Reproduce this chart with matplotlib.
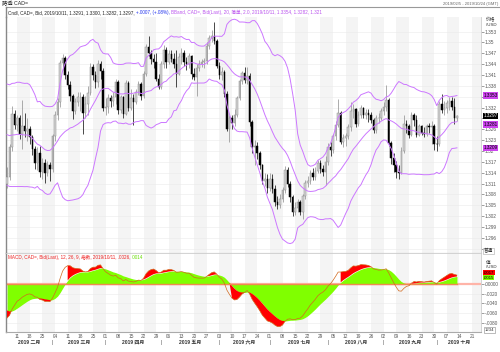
import matplotlib
matplotlib.use('Agg')
import matplotlib.pyplot as plt
from matplotlib.lines import Line2D
import numpy as np
import pandas as pd

plt.rcParams['font.family'] = ['Liberation Sans', 'Noto Sans CJK SC', 'DejaVu Sans']

# 2018/11/26 - 2019/02/04 的收盘价，只用来预热布林带和MACD（图上不画）
warmup_close = [
    1.3270, 1.3310, 1.3260, 1.3275, 1.3295,
    1.3245, 1.3320, 1.3365, 1.3385, 1.3335,
    1.3400, 1.3370, 1.3355, 1.3360, 1.3385,
    1.3420, 1.3470, 1.3510, 1.3545, 1.3600,
    1.3620, 1.3620, 1.3665, 1.3635, 1.3640,
    1.3635, 1.3630, 1.3580, 1.3495, 1.3415,
    1.3380, 1.3285, 1.3265, 1.3265, 1.3265,
    1.3265, 1.3250, 1.3290, 1.3270, 1.3255,
    1.3290, 1.3335, 1.3340, 1.3350, 1.3210,
    1.3285, 1.3260, 1.3210, 1.3140, 1.3120,
    1.3108,
]

# 日线 2019/02/05 - 2019/10/11 (每行一周)
close = [
    1.3128, 1.3210, 1.3302, 1.3272,
    1.3292, 1.3248, 1.3270, 1.3255, 1.3262,
    1.3238, 1.3205, 1.3168, 1.3195, 1.3142,
    1.3168, 1.3140, 1.3162, 1.3150, 1.3240,
    1.3298, 1.3335, 1.3442, 1.3458, 1.3410,
    1.3382, 1.3352, 1.3310, 1.3336, 1.3348,
    1.3350, 1.3305, 1.3330, 1.3360, 1.3432,
    1.3410, 1.3390, 1.3440, 1.3420, 1.3320,
    1.3322, 1.3345, 1.3338, 1.3350, 1.3390,
    1.3312, 1.3348, 1.3302, 1.3388, 1.3318,
    1.3345, 1.3336, 1.3362, 1.3385, 1.3352,
    1.3412, 1.3487, 1.3470, 1.3455, 1.3445,
    1.3400, 1.3377, 1.3440, 1.3480, 1.3445,
    1.3468, 1.3455, 1.3440, 1.3413, 1.3460,
    1.3472, 1.3445, 1.3440, 1.3462, 1.3412,
    1.3405, 1.3430, 1.3440, 1.3445, 1.3448,
    1.3490, 1.3512, 1.3518, 1.3505, 1.3436,
    1.3410, 1.3418, 1.3358, 1.3262, 1.3290,
    1.3278, 1.3300, 1.3345, 1.3392, 1.3415,
    1.3395, 1.3408, 1.3280, 1.3210, 1.3215,
    1.3195, 1.3160, 1.3118, 1.3122, 1.3098,
    1.3122, 1.3096, 1.3058, 1.3050, 1.3068,
    1.3092, 1.3148, 1.3110, 1.3072, 1.3030,
    1.3042, 1.3058, 1.3032, 1.3075, 1.3112,
    1.3118, 1.3140, 1.3128, 1.3145, 1.3168,
    1.3150, 1.3142, 1.3170, 1.3210, 1.3204,
    1.3240, 1.3272, 1.3305, 1.3226, 1.3235,
    1.3240, 1.3265, 1.3310, 1.3315, 1.3275,
    1.3300, 1.3318, 1.3300, 1.3305, 1.3300,
    1.3285, 1.3258, 1.3290, 1.3292, 1.3310,
    1.3322, 1.3340, 1.3222, 1.3180, 1.3160,
    1.3142, 1.3138, 1.3200, 1.3275, 1.3268,
    1.3245, 1.3298, 1.3285, 1.3245, 1.3268,
    1.3250, 1.3246, 1.3268, 1.3265, 1.3270,
    1.3220, 1.3218, 1.3330, 1.3312, 1.3318,
    1.3332, 1.3338, 1.3322, 1.3291, 1.3297,
]
high = [
    1.3155, 1.3218, 1.3325, 1.3312,
    1.3300, 1.3300, 1.3340, 1.3305, 1.3290,
    1.3268, 1.3245, 1.3215, 1.3212, 1.3215,
    1.3180, 1.3178, 1.3172, 1.3170, 1.3248,
    1.3310, 1.3345, 1.3450, 1.3468, 1.3462,
    1.3420, 1.3392, 1.3358, 1.3345, 1.3362,
    1.3362, 1.3358, 1.3352, 1.3380, 1.3442,
    1.3440, 1.3420, 1.3450, 1.3448, 1.3430,
    1.3345, 1.3358, 1.3355, 1.3362, 1.3398,
    1.3395, 1.3355, 1.3352, 1.3395, 1.3392,
    1.3372, 1.3358, 1.3370, 1.3392, 1.3390,
    1.3420, 1.3495, 1.3519, 1.3480, 1.3468,
    1.3470, 1.3412, 1.3448, 1.3492, 1.3488,
    1.3478, 1.3478, 1.3470, 1.3478, 1.3470,
    1.3485, 1.3478, 1.3460, 1.3470, 1.3465,
    1.3430, 1.3440, 1.3450, 1.3455, 1.3458,
    1.3500, 1.3520, 1.3535, 1.3556, 1.3510,
    1.3445, 1.3432, 1.3425, 1.3365, 1.3300,
    1.3300, 1.3315, 1.3352, 1.3400, 1.3422,
    1.3432, 1.3432, 1.3415, 1.3285, 1.3230,
    1.3225, 1.3200, 1.3165, 1.3140, 1.3135,
    1.3140, 1.3135, 1.3105, 1.3075, 1.3082,
    1.3100, 1.3158, 1.3155, 1.3118, 1.3078,
    1.3058, 1.3068, 1.3065, 1.3082, 1.3120,
    1.3132, 1.3148, 1.3152, 1.3155, 1.3175,
    1.3175, 1.3162, 1.3185, 1.3222, 1.3225,
    1.3248, 1.3282, 1.3344, 1.3310, 1.3248,
    1.3250, 1.3275, 1.3335, 1.3330, 1.3320,
    1.3310, 1.3328, 1.3322, 1.3315, 1.3315,
    1.3308, 1.3292, 1.3298, 1.3305, 1.3318,
    1.3335, 1.3381, 1.3345, 1.3228, 1.3195,
    1.3172, 1.3160, 1.3210, 1.3298, 1.3285,
    1.3275, 1.3308, 1.3305, 1.3300, 1.3275,
    1.3272, 1.3265, 1.3275, 1.3278, 1.3282,
    1.3275, 1.3240, 1.3338, 1.3358, 1.3338,
    1.3342, 1.3348, 1.3350, 1.3345, 1.3300,
]
low = [
    1.3098, 1.3120, 1.3200, 1.3262,
    1.3255, 1.3232, 1.3206, 1.3238, 1.3228,
    1.3220, 1.3190, 1.3150, 1.3148, 1.3128,
    1.3122, 1.3112, 1.3130, 1.3118, 1.3142,
    1.3228, 1.3285, 1.3322, 1.3425, 1.3400,
    1.3372, 1.3338, 1.3288, 1.3302, 1.3325,
    1.3310, 1.3248, 1.3290, 1.3300, 1.3355,
    1.3395, 1.3375, 1.3378, 1.3400, 1.3310,
    1.3298, 1.3305, 1.3322, 1.3325, 1.3330,
    1.3302, 1.3305, 1.3292, 1.3298, 1.3310,
    1.3312, 1.3272, 1.3330, 1.3355, 1.3340,
    1.3345, 1.3408, 1.3462, 1.3440, 1.3430,
    1.3392, 1.3370, 1.3372, 1.3430, 1.3430,
    1.3440, 1.3445, 1.3430, 1.3377, 1.3410,
    1.3440, 1.3435, 1.3425, 1.3430, 1.3400,
    1.3395, 1.3353, 1.3420, 1.3432, 1.3428,
    1.3440, 1.3482, 1.3500, 1.3495, 1.3428,
    1.3398, 1.3395, 1.3350, 1.3255, 1.3225,
    1.3262, 1.3270, 1.3295, 1.3340, 1.3385,
    1.3388, 1.3385, 1.3270, 1.3195, 1.3160,
    1.3178, 1.3150, 1.3110, 1.3102, 1.3085,
    1.3090, 1.3085, 1.3048, 1.3040, 1.3042,
    1.3060, 1.3085, 1.3100, 1.3060, 1.3020,
    1.3022, 1.3030, 1.3022, 1.3012, 1.3068,
    1.3100, 1.3110, 1.3120, 1.3120, 1.3138,
    1.3140, 1.3130, 1.3105, 1.3160, 1.3185,
    1.3195, 1.3230, 1.3265, 1.3218, 1.3212,
    1.3215, 1.3232, 1.3255, 1.3290, 1.3265,
    1.3270, 1.3290, 1.3290, 1.3288, 1.3280,
    1.3278, 1.3250, 1.3250, 1.3278, 1.3285,
    1.3300, 1.3310, 1.3215, 1.3165, 1.3142,
    1.3124, 1.3122, 1.3135, 1.3195, 1.3250,
    1.3235, 1.3240, 1.3270, 1.3238, 1.3240,
    1.3245, 1.3238, 1.3240, 1.3250, 1.3220,
    1.3202, 1.3200, 1.3215, 1.3305, 1.3300,
    1.3305, 1.3312, 1.3312, 1.3275, 1.3282,
]

month_names = ['二月', '三月', '四月', '五月', '六月', '七月', '八月', '九月', '十月']
price_ticks = [1.293, 1.296, 1.299, 1.302, 1.305, 1.308, 1.311, 1.314, 1.317, 1.32,
               1.323, 1.326, 1.329, 1.332, 1.335, 1.338, 1.341, 1.344, 1.347, 1.35, 1.353]
hidden_ticks = [1.293, 1.329, 1.335]  # 被右侧数值框盖住
macd_ticks = [0.0, -0.002, -0.004, -0.006, -0.008]
macd_labels = ['.00000', '-.0020', '-.0040', '-.0060', '-.0080']

# 指标计算
allc = pd.Series(warmup_close + close)
mid = allc.rolling(20).mean()
sd = allc.rolling(20).std(ddof=0)
upper = (mid + 2 * sd).values[-len(close):]
lower = (mid - 2 * sd).values[-len(close):]
mid = mid.values[-len(close):]
ema12 = allc.ewm(span=12, adjust=False).mean()
ema26 = allc.ewm(span=26, adjust=False).mean()
macd = ema12 - ema26
signal = macd.ewm(span=9, adjust=False).mean()
macd = macd.values[-len(close):]
signal = signal.values[-len(close):]

# x = 从 2019/02/04 起的交易日序号
days = pd.bdate_range('2019-02-04', '2019-10-25')
x = np.arange(1, len(close) + 1)
opens = [warmup_close[-1]] + close[:-1]

W, H = 500, 352
fig = plt.figure(figsize=(W / 100, H / 100), dpi=100)
fl = 5.5 / W
fr = 480.7 / W
ax = fig.add_axes([fl, 1 - 253 / H, fr - fl, (253 - 16.7) / H])
ax2 = fig.add_axes([fl, 1 - 331.5 / H, fr - fl, (331.5 - 253) / H])

mondays = [i for i, d in enumerate(days) if d.weekday() == 0 and i >= 5]
for a in (ax, ax2):
    a.set_xlim(0.4, 188.4)
    for m in mondays[::2]:
        a.axvspan(m, m + 5, color='#f4f4f4', lw=0, zorder=0)
    for s in ('top', 'right'):
        a.spines[s].set_color('#cccccc')
        a.spines[s].set_linewidth(0.6)
    a.spines['left'].set_color('#888888')
    a.spines['left'].set_linewidth(1.0)
    a.spines['bottom'].set_color('#aaaaaa')
    a.spines['bottom'].set_linewidth(0.8)
ax.spines['top'].set_visible(False)

# 主图：蜡烛 + 布林带
ax.set_ylim(1.2918, 1.3571)
for t in price_ticks:
    ax.axhline(t, color='#ebebeb', lw=0.4, zorder=0.5)
for xi, o, h, l, c in zip(x, opens, high, low, close):
    up = c >= o
    col = '#8c8c8c' if up else '#000000'
    ax.vlines(xi, l, h, color=col, lw=0.5, zorder=2)
    ax.bar(xi, max(abs(c - o), 0.00008), bottom=min(o, c), width=0.62,
           color='#d4d4d4' if up else '#000000', edgecolor=col, lw=0.35, zorder=3)
bcol = '#cc77ff'
ax.plot(x, upper, color=bcol, lw=0.7, zorder=4)
ax.plot(x, mid, color=bcol, lw=0.7, zorder=4)
ax.plot(x, lower, color=bcol, lw=0.7, zorder=4)

ax.set_xticks([])
ax.yaxis.tick_right()
ax.set_yticks(price_ticks)
ax.set_yticklabels(['' if t in hidden_ticks else f'{t:g}' for t in price_ticks])
ax.tick_params(axis='y', labelsize=3.4, length=2, width=0.4, pad=1, colors='#555555')

ytr = ax.get_yaxis_transform()
box = dict(boxstyle='square,pad=0.15', ec='none')
ax.text(1.006, upper[-1], f'{upper[-1]:.4f}', transform=ytr, fontsize=3.3, va='center',
        bbox=dict(box, fc='#cc44ee'), zorder=10, clip_on=False)
ax.text(1.006, close[-1], f'{close[-1]:.4f}', transform=ytr, fontsize=3.3, va='center',
        color='white', bbox=dict(box, fc='black'), zorder=11, clip_on=False)
ax.text(1.006, mid[-1] - 0.0008, f'{mid[-1]:.4f}', transform=ytr, fontsize=3.3, va='center',
        bbox=dict(box, fc='#cc44ee'), zorder=10, clip_on=False)
ax.text(1.006, lower[-1], f'{lower[-1]:.4f}', transform=ytr, fontsize=3.3, va='center',
        bbox=dict(box, fc='#cc44ee'), zorder=10, clip_on=False)

# MACD
ax2.set_ylim(-0.00966, 0.0062)
for t in macd_ticks:
    ax2.axhline(t, color='#ebebeb', lw=0.4, zorder=0.5)
ax2.axhline(0, color='#ffb4a8', lw=1.6, zorder=1)
ax2.fill_between(x, 0, signal, color='#80ff00', lw=0, zorder=2)
outside = (macd - signal) * np.sign(signal) > 0
ax2.fill_between(x, signal, macd, where=outside, interpolate=True, color='#ff0000', lw=0, zorder=3)
ax2.plot(x, np.zeros_like(x, dtype=float), color='#f08a50', lw=1.0, zorder=3.5)
ax2.plot(x, macd, color='#d2691e', lw=0.5, zorder=4)

ax2.yaxis.tick_right()
ax2.set_yticks(macd_ticks)
ax2.set_yticklabels(macd_labels)
ax2.tick_params(axis='y', labelsize=3.4, length=2, width=0.4, pad=1, colors='#555555')
ytr2 = ax2.get_yaxis_transform()
ax2.text(1.006, 0.00225, f'{macd[-1]:.4f}'.lstrip('0'), transform=ytr2, fontsize=3.1,
         va='center', bbox=dict(box, fc='#ff0000'), clip_on=False)
ax2.text(1.006, 0.00122, f'{signal[-1]:.4f}'.lstrip('0'), transform=ytr2, fontsize=3.1,
         va='center', bbox=dict(box, fc='#80ff00'), clip_on=False)

ax2.set_xticks(mondays)
ax2.set_xticklabels([f'{days[m].day:02d}' for m in mondays])
ax2.tick_params(axis='x', labelsize=3.4, length=0, pad=1.5, colors='#555555')

# 月份标签
xtr = ax2.get_xaxis_transform()
starts = [i for i in range(1, len(days)) if days[i].month != days[i - 1].month]
bounds = [0.4] + [float(s) for s in starts] + [188.4]
for k, name in enumerate(month_names):
    c0, c1 = bounds[k], bounds[k + 1]
    ax2.text((c0 + c1) / 2, -0.135, f'2019 {name}', transform=xtr, ha='center', va='center',
             fontsize=3.6, fontweight='bold', color='#333333', clip_on=False)
for s in starts:
    ax2.text(s, -0.135, '|', transform=xtr, ha='center', va='center', fontsize=3.6,
             color='#555555', clip_on=False)

# 边框与标题
fig.add_artist(Line2D([fl, 1], [1 - 7.3 / H] * 2, color='#999999', lw=0.8))
fig.add_artist(Line2D([fl, fl], [1 - 7.3 / H, 1 - 16.7 / H], color='#888888', lw=1.0))
fig.text(2 / W, 1 - 3.8 / H, '路透 CAD=', fontsize=3.8, va='center', color='#222222')
fig.text(498 / W, 1 - 4.2 / H, '2019/02/5 - 2019/10/24 (GMT)', fontsize=3.0, va='center',
         ha='right', color='#666666')
fig.text(486 / W, 1 - 19.5 / H, '价格', fontsize=3.4, va='center', color='#333333')
fig.text(486 / W, 1 - 25 / H, '/USD', fontsize=3.2, va='center', color='#333333')
fig.text(484 / W, 1 - 251 / H, '普通', fontsize=3.3, va='center', color='#333333',
         bbox=dict(boxstyle='square,pad=0.2', fc='white', ec='#aaaaaa', lw=0.4))
fig.text(486 / W, 1 - 262 / H, '值', fontsize=3.4, va='center', color='#333333')
fig.text(486 / W, 1 - 266.8 / H, '/USD', fontsize=3.2, va='center', color='#333333')
fig.text(485 / W, 1 - 330 / H, '1234', fontsize=3.1, va='center', color='#333333',
         bbox=dict(boxstyle='square,pad=0.2', fc='white', ec='#888888', lw=0.4))

renderer = fig.canvas.get_renderer()


def chain(xp, yp, parts, size=3.3):
    for s, c in parts:
        t = fig.text(xp / W, 1 - yp / H, s, color=c, fontsize=size, va='center')
        bb = t.get_window_extent(renderer=renderer)
        xp = bb.x1 + 1.2


chain(8, 12.7, [
    ('Cndl, CAD=, Bid, 2019/10/11, 1.3291, 1.3300, 1.3282, 1.3297,', '#222222'),
    ('+.0007, (+.08%),', '#2233ee'),
    ('BBand, CAD=, Bid(Last), 20, 简单, 2.0, 2019/10/11, 1.3354, 1.3282, 1.321', '#bb55ee'),
])
chain(8, 257.5, [
    ('MACD, CAD=, Bid(Last), 12, 26, 9, 指数, 2019/10/11, .0026,', '#ee2222'),
    ('.0014', '#66dd00'),
])

fig.savefig('out.png', dpi=100)
